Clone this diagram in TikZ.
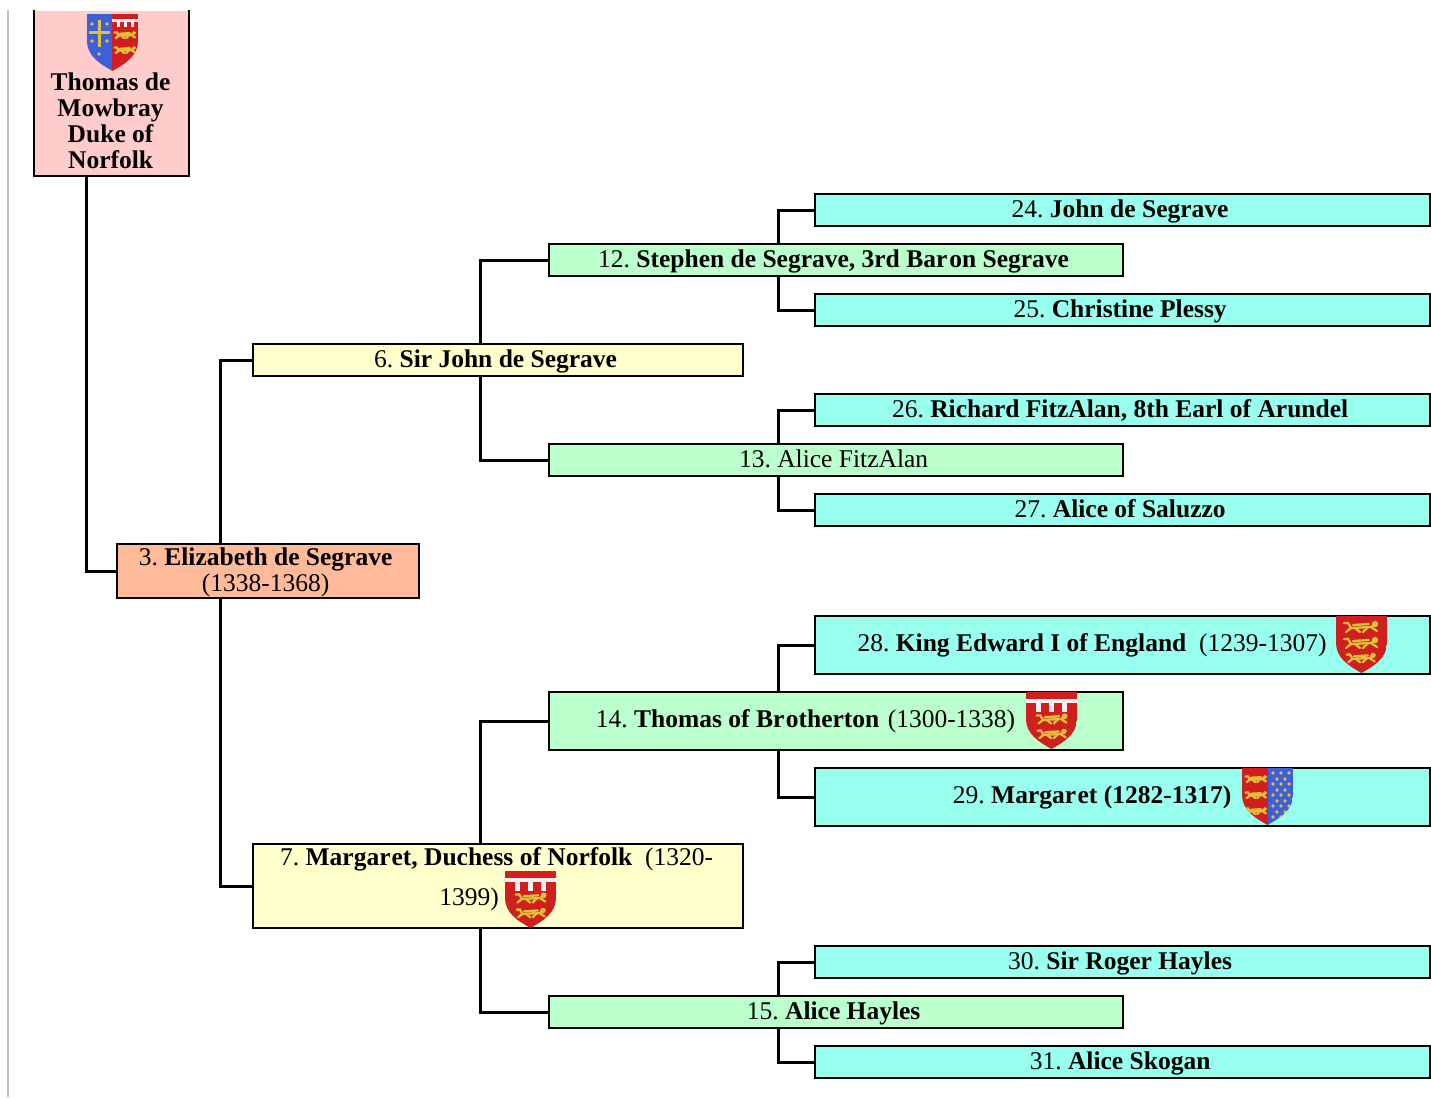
\documentclass[tikz,border=0pt]{standalone}
\usepackage{fontspec}
\setmainfont{Liberation Serif}
\usetikzlibrary{positioning}
\definecolor{rosebox}{HTML}{FFCCCC}
\definecolor{peachbox}{HTML}{FFBB99}
\definecolor{creambox}{HTML}{FFFFCC}
\definecolor{mintbox}{HTML}{BBFFCC}
\definecolor{aquabox}{HTML}{99FFEE}
\definecolor{armsred}{HTML}{CF1F1F}
\definecolor{armsblue}{HTML}{3F5FD8}
\definecolor{armsgold}{HTML}{E2C13A}
\newcommand{\shieldpath}{(0,0) -- (51,0) -- (51,27) .. controls (51,42) and (38,50) .. (25.5,57) .. controls (13,50) and (0,42) .. (0,27) -- cycle}
\newcommand{\gp}{\kern1.5pt}
\tikzset{
  person/.style={draw=black,line width=2.2pt,inner sep=0pt,anchor=north west,font=\fontsize{25.5}{26}\selectfont\frenchspacing,align=center},
  oneline/.style={text height=22pt,text depth=7pt,minimum height=32pt,execute at end node=\kern5pt},
  tallline/.style={text height=20pt,text depth=7pt,minimum height=58pt},
  gentwo/.style={person,fill=peachbox,minimum width=302pt,minimum height=54pt},
  genthree/.style={person,fill=creambox,minimum width=490pt},
  genfour/.style={person,fill=mintbox,minimum width=574pt},
  genfive/.style={person,fill=aquabox,minimum width=615pt},
  link/.style={draw=black,line width=3pt,line join=miter},
  lionline/.style={draw=armsgold,line width=2.3pt,line cap=round},
  lion/.pic={
    \draw[lionline] (-17,-4) -- (-13,-4) -- (-10,1) -- (10,0) -- (16,-4);
    \draw[lionline] (-8,-2) -- (8,-3);
    \fill[armsgold] (14,-3) circle (3.2);
    \draw[lionline] (-10,1) -- (-15,5);
    \draw[lionline] (-6,1) -- (-1,5);
    \draw[lionline] (7,0) -- (2,5);
    \draw[lionline] (10,0) -- (16,4);
  },
  labelbar/.pic={
    \fill[white!90!gray] (-26,7) rectangle (26,11);
    \foreach \tx in {-13,0,13} {
      \fill[white!90!gray] (\tx-2.5,9) rectangle (\tx+2.5,20);
    }
  },
  england/.pic={
    \begin{scope}
      \clip \shieldpath;
      \fill[armsred] (0,0) rectangle (51,57);
      \pic at (25,11) {lion};
      \pic at (25,27) {lion};
      \pic[scale=0.85] at (25,42) {lion};
    \end{scope}
  },
  brotherton/.pic={
    \begin{scope}
      \clip \shieldpath;
      \fill[armsred] (0,0) rectangle (51,57);
      \pic at (25.5,0) {labelbar};
      \pic[scale=0.9] at (26,27) {lion};
      \pic[scale=0.85] at (26,42) {lion};
    \end{scope}
  },
  margaretarms/.pic={
    \begin{scope}
      \clip \shieldpath;
      \fill[armsred] (0,0) rectangle (26,57);
      \fill[armsblue] (26,0) rectangle (51,57);
      \pic[scale=0.62] at (14,11) {lion};
      \pic[scale=0.62] at (14,27) {lion};
      \pic[scale=0.62] at (14,43) {lion};
      \foreach \dy in {5,16,27,38,49} {
        \foreach \dx in {31,39,47} {
          \fill[armsgold] (\dx,\dy) circle (1.9);
        }
      }
      \foreach \dy in {11,22,33,44} {
        \foreach \dx in {35,43} {
          \fill[armsgold] (\dx,\dy) circle (1.9);
        }
      }
    \end{scope}
  },
  mowbrayarms/.pic={
    \begin{scope}
      \clip \shieldpath;
      \fill[armsblue] (0,0) rectangle (25,57);
      \fill[armsred] (25,0) rectangle (51,57);
      \fill[armsgold] (11,6) rectangle (14,33);
      \fill[armsgold] (2,17) rectangle (23,20);
      \foreach \cx/\cy in {5/10,20/10,5/27,20/27,12/40} {
        \fill[armsgold] (\cx,\cy) circle (1.8);
      }
      \fill[white!90!gray] (25,5) rectangle (51,8);
      \foreach \tx in {31,38,45} {
        \fill[white!90!gray] (\tx-1.5,6) rectangle (\tx+1.5,13);
      }
      \pic[scale=0.62] at (38,21) {lion};
      \pic[scale=0.62] at (38,36) {lion};
    \end{scope}
  }
}
\begin{document}
\begin{tikzpicture}[x=1pt,y=-1pt]
\useasboundingbox (0,0) rectangle (1431,1097);
\draw[gray!50,line width=2pt] (8,10) -- (8,1097);
% first column
\node[person,draw=none,fill=rosebox,minimum width=153pt,font=\fontsize{25.5}{26}\selectfont\bfseries] (mowbray) at (34,10)
  {\rule{0pt}{79pt}Thomas de\kern2pt\\Mowbray\kern2pt\\Duke of\kern2pt\\Norfolk\kern2pt\rule[-7pt]{0pt}{7pt}};
\draw[black,line width=2.2pt] (mowbray.north west) |- (mowbray.south east) -- (mowbray.north east);
\pic at (87,14) {mowbrayarms};
\node[gentwo] (elizabeth) at (116,543) {\rule{0pt}{21.5pt}3. \textbf{Elizabeth de Segrave}\kern5pt\\(1338-1368)\kern5pt\rule[-6.5pt]{0pt}{6.5pt}};
% third column
\node[genthree,oneline] (john) at (252,343) {6. \textbf{Sir John de Segrave}};
\node[genthree,minimum height=84pt] (margaret) at (252,843)
  {\rule{0pt}{21pt}7. \textbf{Margar\kern1pt et, Duchess of Norfolk}\enspace(1320-\kern3pt\\[14pt]1399)\kern58pt\rule[-23pt]{0pt}{23pt}};
% fourth column
\node[genfour,oneline] (stephen) at (548,243) {12. \textbf{Stephen de Segrave, 3rd Bar\kern2pt on Segrave}};
\node[genfour,oneline] (alice) at (548,443) {13. Alice FitzAlan};
\node[genfour,tallline] (thomas) at (548,691)
  {14. \textbf{Thomas of Br\gp otherton}\kern2pt{} (1300-1338)\hspace{61pt}};
\node[genfour,oneline] (hayles) at (548,995) {15. \textbf{Alice Hayles}};
% fifth column
\node[genfive,oneline] (segrave) at (814,193) {24. \textbf{John de Segrave}};
\node[genfive,oneline] (plessy) at (814,293) {25. \textbf{Christine Plessy}};
\node[genfive,oneline] (fitzalan) at (814,393) {26. \textbf{Richard FitzAlan, 8th Earl of Arundel}};
\node[genfive,oneline] (saluzzo) at (814,493) {27. \textbf{Alice of Saluzzo}};
\node[genfive,tallline] (edward) at (814,615)
  {28. \textbf{King Edward I of England}\enspace(1239-1307)\hspace{61pt}};
\node[genfive,tallline] (margarettwo) at (814,767)
  {29. \textbf{Margar\gp et (1282-1317)}\hspace{61pt}};
\node[genfive,oneline] (roger) at (814,945) {30. \textbf{Sir Roger Hayles}};
\node[genfive,oneline] (skogan) at (814,1045) {31. \textbf{Alice Skogan}};
% arms
\pic at (505,871) {brotherton};
\pic at (1026,692) {brotherton};
\pic at (1336,616) {england};
\pic at (1242,768) {margaretarms};
% connectors
\coordinate (trunkone) at (86.5,0);
\coordinate (trunktwo) at (220.5,0);
\coordinate (trunkthree) at (480.5,0);
\coordinate (trunkfour) at (778.5,0);
\draw[link] (trunkone |- mowbray.south) |- (elizabeth.west);
\draw[link] (trunktwo |- elizabeth.north) |- (john.west);
\draw[link] (trunktwo |- elizabeth.south) |- (margaret.west);
\draw[link] (trunkthree |- john.north) |- (stephen.west);
\draw[link] (trunkthree |- john.south) |- (alice.west);
\draw[link] (trunkthree |- margaret.north) |- (thomas.west);
\draw[link] (trunkthree |- margaret.south) |- (hayles.west);
\draw[link] (trunkfour |- stephen.north) |- (segrave.west);
\draw[link] (trunkfour |- stephen.south) |- (plessy.west);
\draw[link] (trunkfour |- alice.north) |- (fitzalan.west);
\draw[link] (trunkfour |- alice.south) |- (saluzzo.west);
\draw[link] (trunkfour |- thomas.north) |- (edward.west);
\draw[link] (trunkfour |- thomas.south) |- (margarettwo.west);
\draw[link] (trunkfour |- hayles.north) |- (roger.west);
\draw[link] (trunkfour |- hayles.south) |- (skogan.west);
\end{tikzpicture}
\end{document}
